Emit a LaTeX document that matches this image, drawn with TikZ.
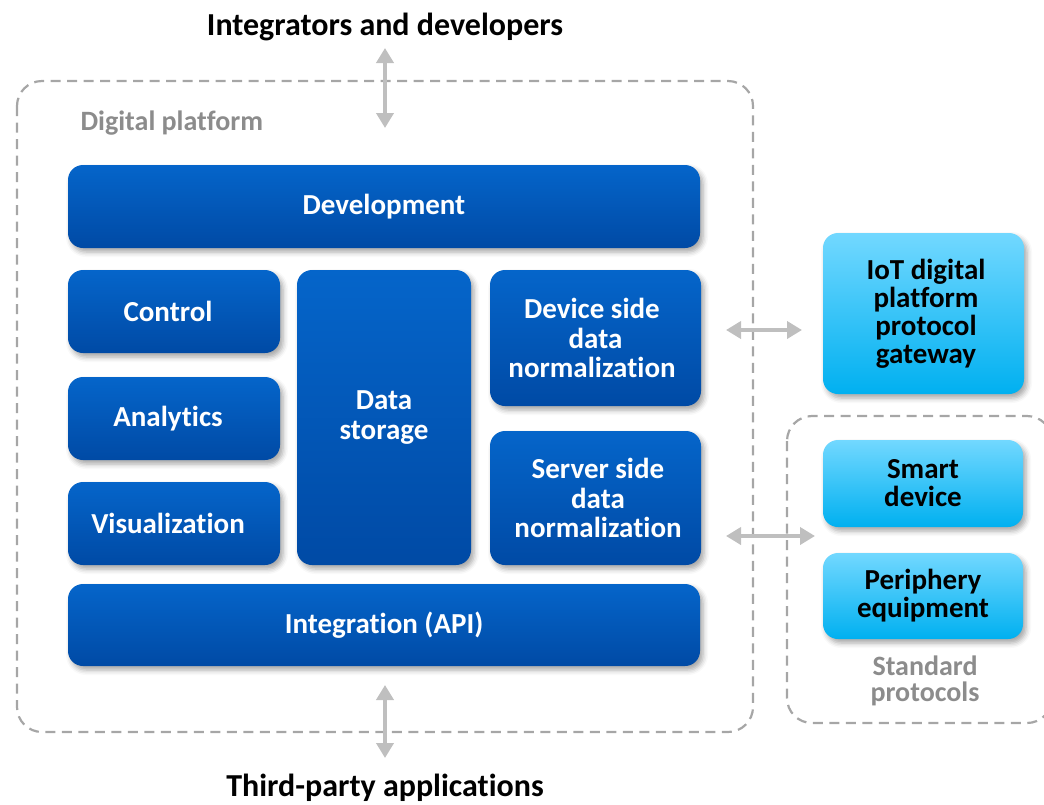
\documentclass[tikz,border=0pt]{standalone}
\usepackage{fontspec}
\setmainfont{Carlito}[Ligatures=NoCommon]
\usetikzlibrary{arrows.meta,shadows,shadows.blur}
\definecolor{dtop}{HTML}{0565CA}
\definecolor{dbot}{HTML}{004AA5}
\definecolor{ltop}{HTML}{72D8FF}
\definecolor{lbot}{HTML}{00B0F0}
\definecolor{dashgray}{HTML}{A6A6A6}
\definecolor{arrgray}{HTML}{BFBFBF}
\definecolor{labgray}{HTML}{8C8C8C}
\tikzset{
  base/.style={rounded corners=15pt, inner sep=0pt, align=center,
    blur shadow={shadow xshift=3pt, shadow yshift=-4pt, shadow blur radius=5pt, shadow opacity=35}},
  darkbox/.style={base, top color=dtop, bottom color=dbot, text=white,
    font=\bfseries\fontsize{29}{29.5}\selectfont},
  lightbox/.style={base, top color=ltop, bottom color=lbot, text=black,
    font=\bfseries\fontsize{29}{28}\selectfont},
  frame/.style={draw=dashgray, line width=2.2pt, dash pattern=on 10pt off 6.5pt, rounded corners=25pt},
  biarrow/.style={draw=arrgray, line width=4.5pt, {Triangle[width=17pt,length=15pt]}-{Triangle[width=17pt,length=15pt]}},
  title/.style={font=\bfseries\fontsize{32}{34}\selectfont, text=black},
  glabel/.style={font=\bfseries\fontsize{28}{26}\selectfont, text=labgray, align=center}
}
\begin{document}
\begin{tikzpicture}[x=1pt,y=-1pt]
\useasboundingbox (0,0) rectangle (1044,804);
\begin{scope}
\clip (0,0) rectangle (1044,804);
\draw[frame] (17,81) rectangle (753,732);
\draw[frame] (787,416) rectangle (1052,723);
\end{scope}

\node[glabel, anchor=base west] (dplab) at (77,130) {Digital platform};
\node[glabel] (stdlab) at (925,681) {Standard\\protocols};

\node[title] (integr) at (385,27) {Integrators and developers};
\node[title] (third) at (385,788) {Third-party applications};

\node[darkbox, minimum width=632pt, minimum height=83pt] (dev) at (384,206.5) {Development};
\node[darkbox, minimum width=212pt, minimum height=83pt] (ctrl) at (174,311.5) {Control\hspace*{12pt}};
\node[darkbox, minimum width=212pt, minimum height=83pt] (anal) at (174,418.5) {Analytics\hspace*{12pt}};
\node[darkbox, minimum width=212pt, minimum height=83pt] (vis) at (174,523.5) {Visualization\hspace*{12pt}};
\node[darkbox, minimum width=174pt, minimum height=295pt] (stor) at (384,417.5) {Data\\storage};
\node[darkbox, minimum width=211pt, minimum height=136pt] (devn) at (595.5,338) {Device side\hspace*{7pt}\\data\hspace*{7pt}\\normalization\hspace*{7pt}};
\node[darkbox, minimum width=211pt, minimum height=134pt] (srvn) at (595.5,498) {\hspace*{5pt}Server side\\\hspace*{5pt}data\\\hspace*{5pt}normalization};
\node[darkbox, minimum width=632pt, minimum height=82pt] (api) at (384,625) {Integration (API)};

\node[lightbox, minimum width=201pt, minimum height=161pt] (iot) at (923.5,313.5) {\hspace*{5pt}IoT digital\\\hspace*{5pt}platform\\\hspace*{5pt}protocol\\\hspace*{5pt}gateway};
\node[lightbox, minimum width=200pt, minimum height=87pt] (smart) at (923,483.5) {Smart\\device};
\node[lightbox, minimum width=200pt, minimum height=86pt] (peri) at (923,596) {Periphery\\equipment};

\coordinate (a1) at (385,48);
\coordinate (a2) at (385,128);
\coordinate (b1) at (385,685);
\coordinate (b2) at (385,758);
\coordinate (c1) at (726,330);
\coordinate (c2) at (802,330);
\coordinate (d1) at (726,536);
\coordinate (d2) at (815,536);
\draw[biarrow] (a1) -- (a2);
\draw[biarrow] (b1) -- (b2);
\draw[biarrow] (c1) -- (c2);
\draw[biarrow] (d1) -- (d2);
\end{tikzpicture}
\end{document}
